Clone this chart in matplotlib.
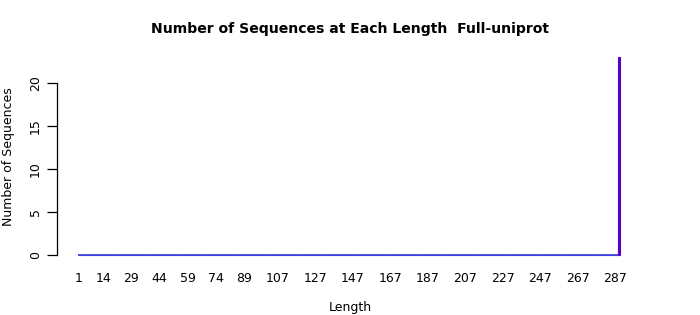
import matplotlib
matplotlib.use("Agg")
import matplotlib.pyplot as plt
import numpy as np

# sequence lengths and how many sequences have each length
lengths = list(range(1, 290))
counts = [0] * 288 + [23]
# labels that survive R-style overlap thinning on the x axis
shown_labels = [1, 14, 29, 44, 59, 74, 89, 107, 127, 147, 167, 187, 207, 227, 247, 267, 287]
y_ticks = [0, 5, 10, 15, 20]

W, H = 700, 315
fig = plt.figure(figsize=(W / 100, H / 100), dpi=100)

# axes placed in pixel coords
left, right, top, bottom = 57, 640, 50, 260
ax = fig.add_axes([left / W, 1 - bottom / H, (right - left) / W, (bottom - top) / H])

px_x = 1.875  # pixels per length unit
px_y = 8.6    # pixels per count
ax.set_xlim(1 - (79 - left) / px_x, 1 + (right - 79) / px_x)
ax.set_ylim(-(bottom - 255) / px_y, (255 - top) / px_y)

colors = ["#3c3ce0" if c == 0 else "#5a00c8" for c in counts]
# empty bars in R still show their border, which reads as a solid blue baseline
ax.hlines(0, lengths[0] - 0.5, lengths[-1] - 0.5, color="#3c3ce0", linewidth=1.2)
ax.bar(lengths, counts, width=1.0, color=colors, edgecolor=colors, linewidth=0.8, zorder=3)

for s in ["top", "right", "bottom"]:
    ax.spines[s].set_visible(False)
ax.spines["left"].set_bounds(0, 20)
ax.spines["left"].set_linewidth(0.9)

ax.set_yticks(y_ticks)
ax.set_yticklabels([str(v) for v in y_ticks], rotation=90, va="center", fontsize=9)
ax.tick_params(axis="y", length=7, width=0.9, pad=4)

ax.set_xticks(shown_labels)
ax.set_xticklabels([str(v) for v in shown_labels], fontsize=9)
ax.tick_params(axis="x", length=0, pad=9)

fig.text(350 / W, 1 - 29 / H, "Number of Sequences at Each Length  Full-uniprot",
         ha="center", va="center", fontsize=10.1, fontweight="bold")
fig.text(350 / W, 1 - 308 / H, "Length", ha="center", va="center", fontsize=9)
fig.text(9 / W, 1 - 157 / H, "Number of Sequences", ha="center", va="center",
         rotation=90, fontsize=9)

fig.savefig("out.png", dpi=100)
